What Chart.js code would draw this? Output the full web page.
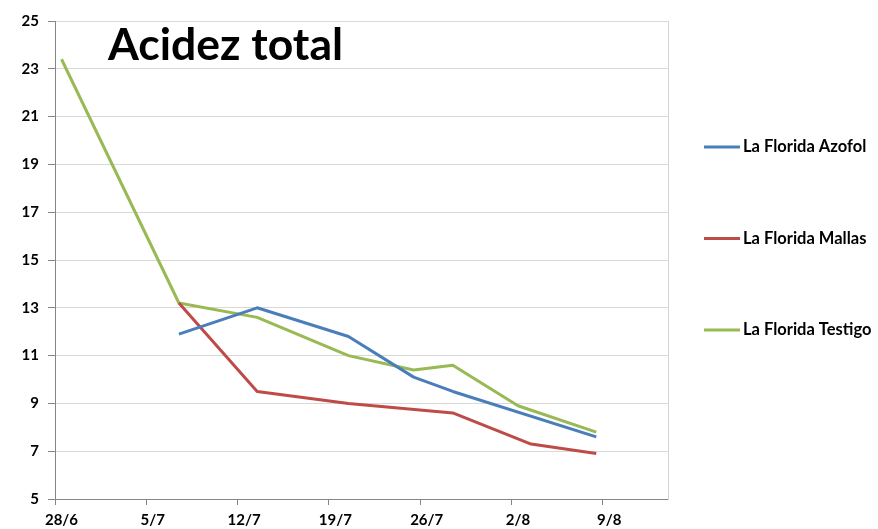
<!DOCTYPE html>
<html><head><meta charset="utf-8">
<script src="https://cdn.jsdelivr.net/npm/chart.js@4/dist/chart.umd.min.js"></script>
<style>html,body{margin:0;padding:0;background:#fff}#wrap{width:878px;height:529px;position:relative}</style>
</head><body><div id="wrap"><canvas id="c" width="878" height="529"></canvas></div>
<script>
const chartTitle = 'Acidez total';
const startDate = '28/6';
const tickLabels = ['28/6', '5/7', '12/7', '19/7', '26/7', '2/8', '9/8'];
const seriesNames = ['La Florida Azofol', 'La Florida Mallas', 'La Florida Testigo'];

const azofolDates = ['7/7', '13/7', '20/7', '25/7', '28/7', '8/8'];
const azofolValues = [11.9, 13.0, 11.8, 10.1, 9.5, 7.6];

const mallasDates = ['7/7', '13/7', '20/7', '28/7', '3/8', '8/8'];
const mallasValues = [13.2, 9.5, 9.0, 8.6, 7.3, 6.9];

const testigoDates = ['28/6', '7/7', '13/7', '20/7', '25/7', '28/7', '2/8', '8/8'];
const testigoValues = [23.4, 13.2, 12.6, 11.0, 10.4, 10.6, 8.9, 7.8];

const seriesColors = ['#4a7ebb', '#be4b48', '#98b954'];

function dayIndex(s) {
  const [d, m] = s.split('/').map(Number);
  const [d0, m0] = startDate.split('/').map(Number);
  const t = Date.UTC(2012, m - 1, d), t0 = Date.UTC(2012, m0 - 1, d0);
  return Math.round((t - t0) / 86400000);
}
// Excel date axis: each day's point sits in the middle of its day slot
function pts(dates, vals) { return dates.map((d, i) => ({ x: dayIndex(d) + 0.5, y: vals[i] })); }

const FONT = 'Lato';

const overlay = {
  id: 'overlay',
  afterDraw(chart) {
    const ctx = chart.ctx;
    ctx.save();
    ctx.fillStyle = '#000';
    ctx.font = 'bold 44.5px ' + FONT;
    ctx.textBaseline = 'alphabetic';
    ctx.fillText(chartTitle, 108, 60);
    ctx.font = 'bold 16.5px ' + FONT;
    ctx.textBaseline = 'middle';
    chart.data.datasets.forEach((ds, i) => {
      const y = 147 + i * 91.5;
      ctx.strokeStyle = ds.borderColor;
      ctx.lineWidth = 3;
      ctx.beginPath(); ctx.moveTo(704, y); ctx.lineTo(740, y); ctx.stroke();
      ctx.fillText(ds.label, 743, y);
    });
    ctx.restore();
  }
};

const tickFont = { family: FONT, weight: 'bold', size: 15 };

new Chart(document.getElementById('c'), {
  type: 'line',
  data: {
    datasets: [
      { label: seriesNames[0], data: pts(azofolDates, azofolValues), borderColor: seriesColors[0] },
      { label: seriesNames[1], data: pts(mallasDates, mallasValues), borderColor: seriesColors[1] },
      { label: seriesNames[2], data: pts(testigoDates, testigoValues), borderColor: seriesColors[2] }
    ].map(d => Object.assign(d, { borderWidth: 3, pointRadius: 0, tension: 0, fill: false, backgroundColor: d.borderColor, borderJoinStyle: 'round', borderCapStyle: 'butt' }))
  },
  options: {
    responsive: false,
    animation: false,
    layout: { padding: { top: 21, right: 210, bottom: 0, left: 0 } },
    plugins: { legend: { display: false }, title: { display: false }, tooltip: { enabled: false } },
    scales: {
      x: {
        type: 'linear', min: 0, max: 47,
        ticks: {
          stepSize: 7, includeBounds: false, autoSkip: false, maxRotation: 0,
          labelOffset: 6.5, padding: 6, color: '#000', font: tickFont,
          callback: (v) => tickLabels[v / 7] ?? ''
        },
        grid: { drawOnChartArea: false, tickLength: 6, tickColor: '#868686', color: '#868686' },
        border: { color: '#868686' },
        afterFit(a) { a.height = 30; }
      },
      y: {
        min: 5, max: 25,
        ticks: { stepSize: 2, color: '#000', font: tickFont, padding: 9 },
        grid: { color: '#d9d9d9', tickColor: '#868686', tickLength: 7 },
        border: { color: '#868686' },
        afterFit(a) { a.width = 55; }
      },
      y2: {
        position: 'right', display: true,
        grid: { display: false }, ticks: { display: false },
        border: { display: true, color: '#d4d4d4' },
        afterFit(a) { a.width = 0; }
      }
    }
  },
  plugins: [overlay]
});
</script>
</body></html>
